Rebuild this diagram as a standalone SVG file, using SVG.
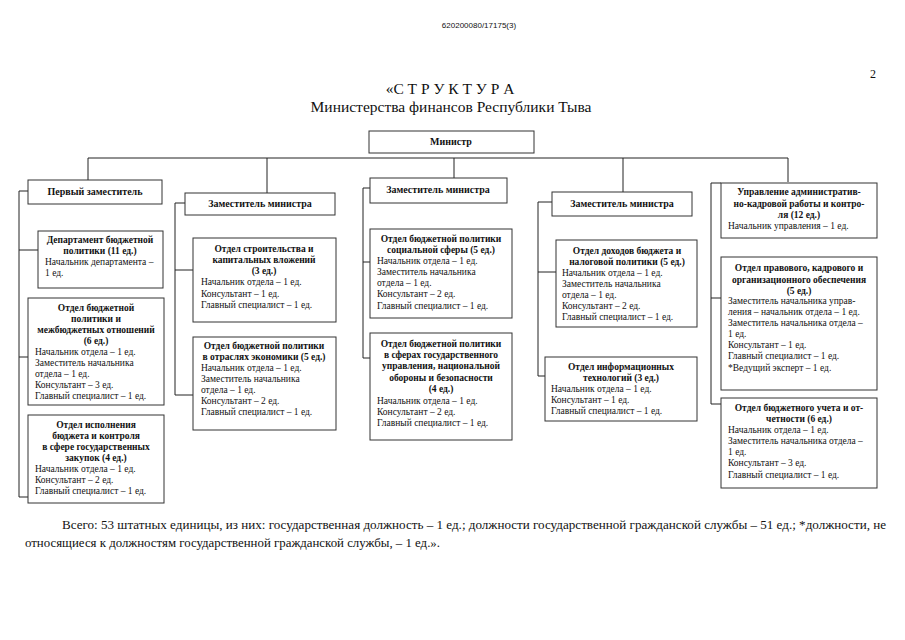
<svg xmlns="http://www.w3.org/2000/svg" width="905" height="640" viewBox="0 0 905 640">
<style>
.box{fill:#fff;stroke:#333;stroke-width:1}
.ln{stroke:#222;stroke-width:1;fill:none}
text{font-family:"Liberation Serif","Times New Roman",serif;fill:#111}
.h{font-weight:bold;font-size:9.5px;text-anchor:middle}
.b{font-size:9.5px}
.big{font-size:15.5px;text-anchor:middle}
</style>
<rect width="905" height="640" fill="#fff"/>
<text x="479" y="28" style="font-family:'Liberation Sans',Arial,sans-serif;font-size:8px;text-anchor:middle">620200080/17175(3)</text>
<text x="870" y="78" style="font-size:12px">2</text>
<text x="450" y="94" class="big">«С Т Р У К Т У Р А</text>
<text x="451" y="112" class="big">Министерства финансов Республики Тыва</text>

<g id="connectors" class="ln">
<path d="M88 158H788M88 158V180M267 158V193M454 158V178M623 158V192M788 158V182"/>
<path d="M19 191V497M19 191H28M19 250H38M19 357H28M19 497H28"/>
<path d="M175 203V395M175 203H185M175 270H193M175 395H193"/>
<path d="M363 188V358M363 188H370M363 262H370M363 358H370"/>
<path d="M538 202V376M538 202H552M538 272H556M538 376H545"/>
<path d="M711 183V404M711 183H721M711 298H721M711 404H721"/>
</g>

<g id="minister"><rect class="box" x="369" y="131" width="165" height="22"/><text class="h" x="451" y="145" style="font-size:10px">Министр</text></g>

<g id="first-deputy"><rect class="box" x="28" y="180" width="134" height="24"/><text class="h" x="95" y="195" style="font-size:10px">Первый заместитель</text></g>
<g id="dept-budget"><rect class="box" x="38" y="231" width="125" height="57"/>
<text class="h" x="100" y="243">Департамент бюджетной</text><text class="h" x="100" y="254">политики (11 ед.)</text>
<text class="b" x="45" y="265">Начальник департамента –</text><text class="b" x="45" y="276">1 ед.</text></g>
<g id="otdel-mezhbudzhet"><rect class="box" x="28" y="298" width="136" height="107"/>
<text class="h" x="96" y="311">Отдел бюджетной</text><text class="h" x="96" y="322">политики и</text><text class="h" x="96" y="333">межбюджетных отношений</text><text class="h" x="96" y="344">(6 ед.)</text>
<text class="b" x="35" y="355">Начальник отдела – 1 ед.</text><text class="b" x="35" y="366">Заместитель начальника</text><text class="b" x="35" y="377">отдела – 1 ед.</text><text class="b" x="35" y="388">Консультант – 3 ед.</text><text class="b" x="35" y="399">Главный специалист – 1 ед.</text></g>
<g id="otdel-ispolnenie"><rect class="box" x="28" y="415" width="136" height="88"/>
<text class="h" x="96" y="428">Отдел исполнения</text><text class="h" x="96" y="439">бюджета и контроля</text><text class="h" x="96" y="450">в сфере государственных</text><text class="h" x="96" y="461">закупок (4 ед.)</text>
<text class="b" x="35" y="472">Начальник отдела – 1 ед.</text><text class="b" x="35" y="483">Консультант – 2 ед.</text><text class="b" x="35" y="494">Главный специалист – 1 ед.</text></g>

<g id="deputy-2"><rect class="box" x="185" y="193" width="150" height="22"/><text class="h" x="260" y="207" style="font-size:10px">Заместитель министра</text></g>
<g id="otdel-stroitelstvo"><rect class="box" x="193" y="238" width="143" height="84"/>
<text class="h" x="264" y="252">Отдел строительства и</text><text class="h" x="264" y="263">капитальных вложений</text><text class="h" x="264" y="274">(3 ед.)</text>
<text class="b" x="201" y="285">Начальник отдела – 1 ед.</text><text class="b" x="201" y="297">Консультант – 1 ед.</text><text class="b" x="201" y="308">Главный специалист – 1 ед.</text></g>
<g id="otdel-otrasli"><rect class="box" x="193" y="337" width="143" height="93"/>
<text class="h" x="264" y="349">Отдел бюджетной политики</text><text class="h" x="264" y="360">в отраслях экономики (5 ед.)</text>
<text class="b" x="201" y="371">Начальник отдела – 1 ед.</text><text class="b" x="201" y="382">Заместитель начальника</text><text class="b" x="201" y="393">отдела – 1 ед.</text><text class="b" x="201" y="404">Консультант – 2 ед.</text><text class="b" x="201" y="415">Главный специалист – 1 ед.</text></g>

<g id="deputy-3"><rect class="box" x="370" y="178" width="137" height="25"/><text class="h" x="438" y="193" style="font-size:10px">Заместитель министра</text></g>
<g id="otdel-social"><rect class="box" x="370" y="229" width="142" height="89"/>
<text class="h" x="441" y="242">Отдел бюджетной политики</text><text class="h" x="441" y="253">социальной сферы (5 ед.)</text>
<text class="b" x="377" y="264">Начальник отдела – 1 ед.</text><text class="b" x="377" y="275">Заместитель начальника</text><text class="b" x="377" y="286">отдела – 1 ед.</text><text class="b" x="377" y="297">Консультант – 2 ед.</text><text class="b" x="377" y="309">Главный специалист – 1 ед.</text></g>
<g id="otdel-gosupr"><rect class="box" x="370" y="333" width="142" height="107"/>
<text class="h" x="441" y="347">Отдел бюджетной политики</text><text class="h" x="441" y="358">в сферах государственного</text><text class="h" x="441" y="369">управления, национальной</text><text class="h" x="441" y="381">обороны и безопасности</text><text class="h" x="441" y="392">(4 ед.)</text>
<text class="b" x="377" y="404">Начальник отдела – 1 ед.</text><text class="b" x="377" y="415">Консультант – 2 ед.</text><text class="b" x="377" y="426">Главный специалист – 1 ед.</text></g>

<g id="deputy-4"><rect class="box" x="552" y="192" width="140" height="24"/><text class="h" x="622" y="207" style="font-size:10px">Заместитель министра</text></g>
<g id="otdel-dohody"><rect class="box" x="556" y="240" width="141" height="87"/>
<text class="h" x="627" y="254">Отдел доходов бюджета и</text><text class="h" x="627" y="265">налоговой политики (5 ед.)</text>
<text class="b" x="562" y="276">Начальник отдела – 1 ед.</text><text class="b" x="562" y="287">Заместитель начальника</text><text class="b" x="562" y="298">отдела – 1 ед.</text><text class="b" x="562" y="309">Консультант – 2 ед.</text><text class="b" x="562" y="320">Главный специалист – 1 ед.</text></g>
<g id="otdel-it"><rect class="box" x="545" y="357" width="152" height="64"/>
<text class="h" x="621" y="370">Отдел информационных</text><text class="h" x="621" y="381">технологий (3 ед.)</text>
<text class="b" x="551" y="392">Начальник отдела – 1 ед.</text><text class="b" x="551" y="403">Консультант – 1 ед.</text><text class="b" x="551" y="414">Главный специалист – 1 ед.</text></g>

<g id="upravlenie"><rect class="box" x="721" y="183" width="156" height="55"/>
<text class="h" x="799" y="195">Управление административ-</text><text class="h" x="799" y="207">но-кадровой работы и контро-</text><text class="h" x="799" y="218">ля (12 ед.)</text>
<text class="b" x="728" y="229">Начальник управления – 1 ед.</text></g>
<g id="otdel-pravovoy"><rect class="box" x="721" y="257" width="156" height="133"/>
<text class="h" x="799" y="271">Отдел правового, кадрового и</text><text class="h" x="799" y="283">организационного обеспечения</text><text class="h" x="799" y="294">(5 ед.)</text>
<text class="b" x="728" y="304">Заместитель начальника управ-</text><text class="b" x="728" y="315">ления – начальник отдела – 1 ед.</text><text class="b" x="728" y="326">Заместитель начальника отдела –</text><text class="b" x="728" y="337">1 ед.</text><text class="b" x="728" y="348">Консультант – 1 ед.</text><text class="b" x="728" y="359">Главный специалист – 1 ед.</text><text class="b" x="728" y="371">*Ведущий эксперт – 1 ед.</text></g>
<g id="otdel-uchet"><rect class="box" x="721" y="398" width="156" height="90"/>
<text class="h" x="799" y="411">Отдел бюджетного учета и от-</text><text class="h" x="799" y="422">четности (6 ед.)</text>
<text class="b" x="728" y="433">Начальник отдела – 1 ед.</text><text class="b" x="728" y="444">Заместитель начальника отдела –</text><text class="b" x="728" y="455">1 ед.</text><text class="b" x="728" y="466">Консультант – 3 ед.</text><text class="b" x="728" y="478">Главный специалист – 1 ед.</text></g>

<text x="62" y="529" style="font-size:12px" textLength="824" lengthAdjust="spacingAndGlyphs">Всего: 53 штатных единицы, из них: государственная должность – 1 ед.; должности государственной гражданской службы – 51 ед.; *должности, не</text>
<text x="25" y="547" style="font-size:12px" textLength="415" lengthAdjust="spacingAndGlyphs">относящиеся к должностям государственной гражданской службы, – 1 ед.».</text>
</svg>
